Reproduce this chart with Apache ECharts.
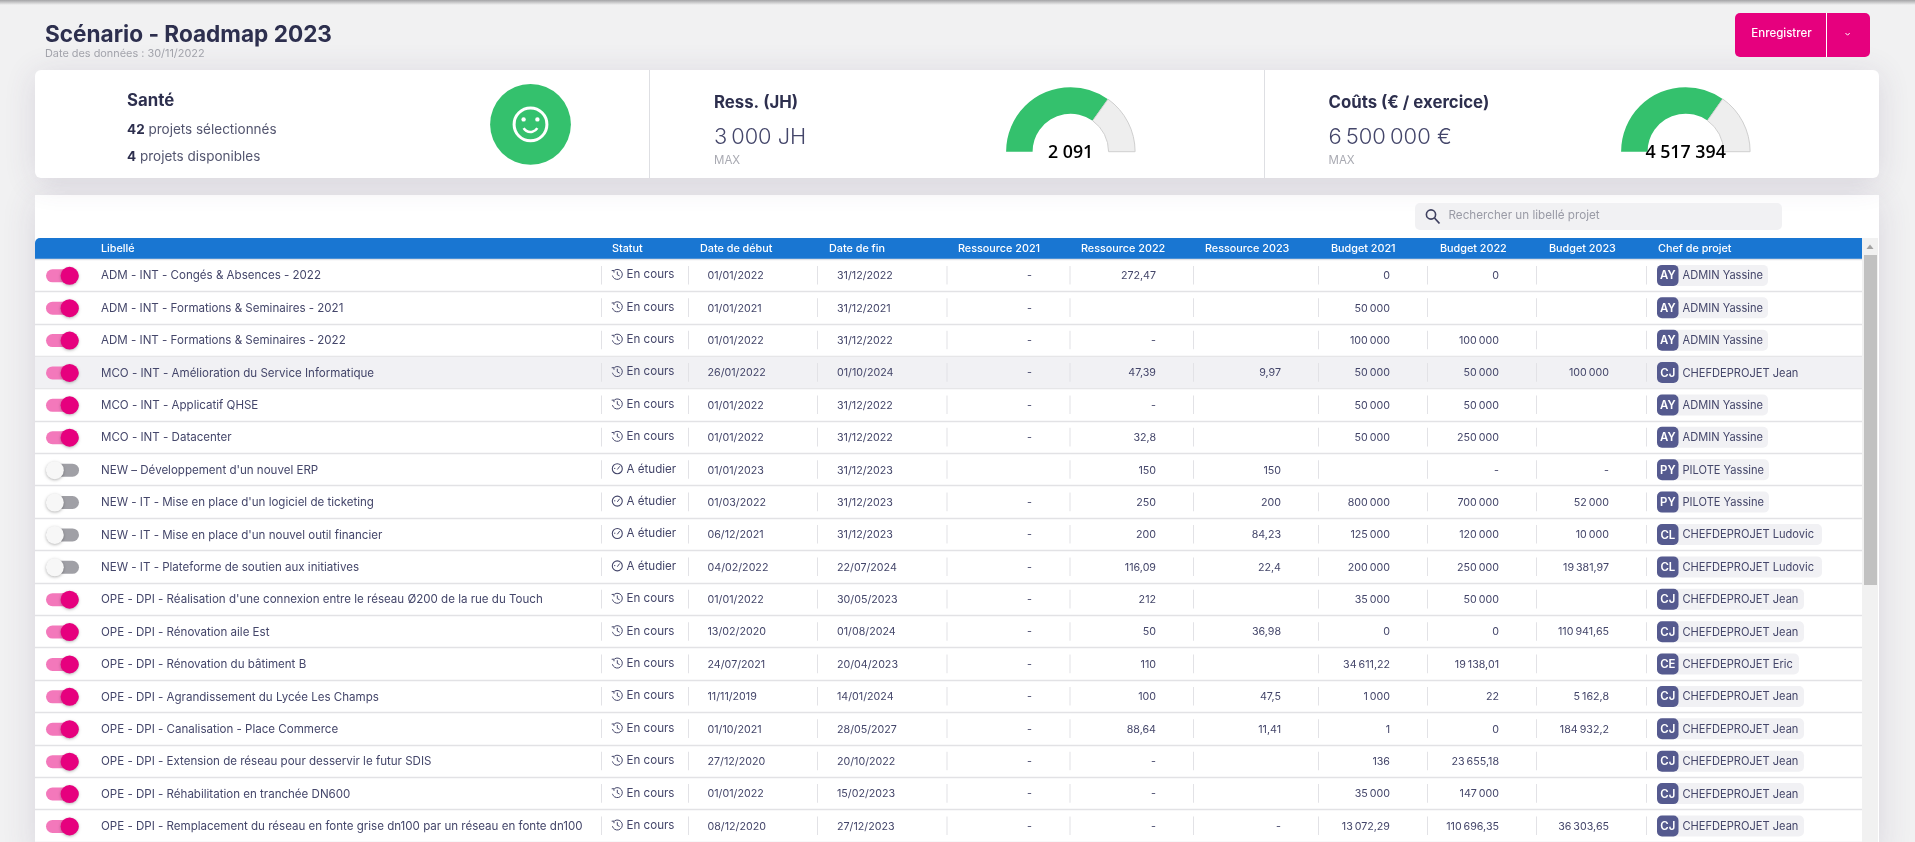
<!DOCTYPE html>
<html>
<head>
<meta charset="utf-8">
<title>Scénario - Roadmap 2023</title>
<script src="https://cdn.jsdelivr.net/npm/echarts@6/dist/echarts.min.js"></script>
<style>
  html, body { margin: 0; padding: 0; background: #f1f1f2; overflow: hidden; }
  #main { width: 1915px; height: 842px; }
</style>
</head>
<body>
<div id="main"></div>
<script>
const labels = [
  "ADM - INT - Congés & Absences - 2022",
  "ADM - INT - Formations & Seminaires - 2021",
  "ADM - INT - Formations & Seminaires - 2022",
  "MCO - INT - Amélioration du Service Informatique",
  "MCO - INT - Applicatif QHSE",
  "MCO - INT - Datacenter",
  "NEW – Développement d'un nouvel ERP",
  "NEW - IT - Mise en place d'un logiciel de ticketing",
  "NEW - IT - Mise en place d'un nouvel outil financier",
  "NEW - IT - Plateforme de soutien aux initiatives",
  "OPE - DPI - Réalisation d'une connexion entre le réseau Ø200 de la rue du Touch",
  "OPE - DPI - Rénovation aile Est",
  "OPE - DPI - Rénovation du bâtiment B",
  "OPE - DPI - Agrandissement du Lycée Les Champs",
  "OPE - DPI - Canalisation - Place Commerce",
  "OPE - DPI - Extension de réseau pour desservir le futur SDIS",
  "OPE - DPI - Réhabilitation en tranchée DN600",
  "OPE - DPI - Remplacement du réseau en fonte grise dn100 par un réseau en fonte dn100"
];
const selected = [1, 1, 1, 1, 1, 1, 0, 0, 0, 0, 1, 1, 1, 1, 1, 1, 1, 1];
const statuses = ["En cours", "En cours", "En cours", "En cours", "En cours", "En cours", "A étudier", "A étudier", "A étudier", "A étudier",
  "En cours", "En cours", "En cours", "En cours", "En cours", "En cours", "En cours", "En cours"];
const startDates = ["01/01/2022", "01/01/2021", "01/01/2022", "26/01/2022", "01/01/2022", "01/01/2022", "01/01/2023", "01/03/2022", "06/12/2021",
  "04/02/2022", "01/01/2022", "13/02/2020", "24/07/2021", "11/11/2019", "01/10/2021", "27/12/2020", "01/01/2022", "08/12/2020"];
const endDates = ["31/12/2022", "31/12/2021", "31/12/2022", "01/10/2024", "31/12/2022", "31/12/2022", "31/12/2023", "31/12/2023", "31/12/2023",
  "22/07/2024", "30/05/2023", "01/08/2024", "20/04/2023", "14/01/2024", "28/05/2027", "20/10/2022", "15/02/2023", "27/12/2023"];
const res2021 = ["-", "-", "-", "-", "-", "-", null, "-", "-", "-", "-", "-", "-", "-", "-", "-", "-", "-"];
const res2022 = [272.47, null, "-", 47.39, "-", 32.8, 150, 250, 200, 116.09, 212, 50, 110, 100, 88.64, "-", "-", "-"];
const res2023 = [null, null, null, 9.97, null, null, 150, 200, 84.23, 22.4, null, 36.98, null, 47.5, 11.41, null, null, "-"];
const bud2021 = [0, 50000, 100000, 50000, 50000, 50000, null, 800000, 125000, 200000, 35000, 0, 34611.22, 1000, 1, 136, 35000, 13072.29];
const bud2022 = [0, null, 100000, 50000, 50000, 250000, "-", 700000, 120000, 250000, 50000, 0, 19138.01, 22, 0, 23655.18, 147000, 110696.35];
const bud2023 = [null, null, null, 100000, null, null, "-", 52000, 10000, 19381.97, null, 110941.65, null, 5162.8, 184932.2, null, null, 36303.65];
const chefs = ["ADMIN Yassine", "ADMIN Yassine", "ADMIN Yassine", "CHEFDEPROJET Jean", "ADMIN Yassine", "ADMIN Yassine", "PILOTE Yassine", "PILOTE Yassine",
  "CHEFDEPROJET Ludovic", "CHEFDEPROJET Ludovic", "CHEFDEPROJET Jean", "CHEFDEPROJET Jean", "CHEFDEPROJET Eric", "CHEFDEPROJET Jean", "CHEFDEPROJET Jean",
  "CHEFDEPROJET Jean", "CHEFDEPROJET Jean", "CHEFDEPROJET Jean"];

const ressMax = 3000;
const ressUsed = 2091;
const coutMax = 6500000;
const coutUsed = 4517394;

// layout, in page pixels
const FONT = 'Inter, "Noto Sans", sans-serif';
const INK = '#44466a';
const DARK = '#2d2f4e';
const GREEN = '#34c16d';
const PINK = '#e6007e';
const headers = [
  ['Libellé', 101], ['Statut', 612], ['Date de début', 700], ['Date de fin', 829], ['Ressource 2021', 958], ['Ressource 2022', 1081],
  ['Ressource 2023', 1205], ['Budget 2021', 1331], ['Budget 2022', 1440], ['Budget 2023', 1549], ['Chef de projet', 1658]
];
const dividers = [601, 688, 817, 946.5, 1069.5, 1193, 1318, 1427, 1536, 1646];
const numCols = [[res2021, 1032], [res2022, 1156], [res2023, 1281], [bud2021, 1390], [bud2022, 1499], [bud2023, 1609]];
const chipEnds = {
  'ADMIN Yassine': 1768, 'PILOTE Yassine': 1769, 'CHEFDEPROJET Jean': 1804, 'CHEFDEPROJET Ludovic': 1822, 'CHEFDEPROJET Eric': 1799
};
const hoverRow = 3;

function fmt(v) {
  if (v === null) return '';
  if (v === '-') return '-';
  return v.toLocaleString('fr-FR', { maximumFractionDigits: 2 });
}

function txt(x, y, text, font, fill, align) {
  return { type: 'text', x: x, y: y, style: { text: text, font: font, fill: fill, align: align || 'left', verticalAlign: 'middle' } };
}

function card(x, y, w, h, r) {
  return {
    type: 'rect', shape: { x: x, y: y, width: w, height: h, r: r },
    style: { fill: '#fff', shadowBlur: 32, shadowColor: 'rgba(82,63,105,0.16)', shadowOffsetY: 4 }
  };
}

const chrome = [
  { type: 'rect', shape: { x: 0, y: 0, width: 1915, height: 5 },
    style: { fill: new echarts.graphic.LinearGradient(0, 0, 0, 1, [{ offset: 0, color: '#a4a4a6' }, { offset: 1, color: '#f1f1f2' }]) } },
  card(35, 195, 1844, 660, 0),
  card(35, 70, 1844, 108, 6),
  txt(45, 35.5, 'Scénario - Roadmap 2023', '700 22.6px ' + FONT, DARK),
  txt(45, 54, 'Date des données : 30/11/2022', '400 10.9px ' + FONT, '#a2a3ab'),
  // bouton
  { type: 'rect', shape: { x: 1735, y: 13, width: 135, height: 44, r: 5 }, style: { fill: PINK } },
  { type: 'rect', shape: { x: 1826, y: 13, width: 1, height: 44 }, style: { fill: '#fff' } },
  txt(1781.5, 34, 'Enregistrer', '500 11.5px ' + FONT, '#fff', 'center'),
  { type: 'polyline', shape: { points: [[1845.5, 33], [1847.6, 35.2], [1849.7, 33]] }, style: { fill: 'none', stroke: '#fff', lineWidth: 1 } },
  // separateurs des cartes
  { type: 'rect', shape: { x: 649, y: 70, width: 1, height: 108 }, style: { fill: '#dedfe3' } },
  { type: 'rect', shape: { x: 1264, y: 70, width: 1, height: 108 }, style: { fill: '#dedfe3' } },
  // sante
  txt(127, 100.5, 'Santé', '700 16.8px ' + FONT, DARK),
  {
    type: 'text', x: 127, y: 130,
    style: { text: '{b|42} projets sélectionnés', font: '400 13.5px ' + FONT, fill: '#53556f', verticalAlign: 'middle',
      rich: { b: { font: '700 13.5px ' + FONT, fill: DARK } } }
  },
  {
    type: 'text', x: 127, y: 157,
    style: { text: '{b|4} projets disponibles', font: '400 13.5px ' + FONT, fill: '#53556f', verticalAlign: 'middle',
      rich: { b: { font: '700 13.5px ' + FONT, fill: DARK } } }
  },
  { type: 'circle', shape: { cx: 530.5, cy: 124.4, r: 40.4 }, style: { fill: GREEN } },
  { type: 'circle', shape: { cx: 530.5, cy: 124.4, r: 16.4 }, style: { fill: 'none', stroke: '#fff', lineWidth: 3 } },
  { type: 'circle', shape: { cx: 523.6, cy: 119.4, r: 2.2 }, style: { fill: '#fff' } },
  { type: 'circle', shape: { cx: 537.4, cy: 119.4, r: 2.2 }, style: { fill: '#fff' } },
  { type: 'arc', shape: { cx: 530.5, cy: 124, r: 8, startAngle: 0.55, endAngle: 2.6 }, style: { fill: 'none', stroke: '#fff', lineWidth: 2.6 } },
  // ressources
  txt(714, 102.5, 'Ress. (JH)', '700 16.8px ' + FONT, DARK),
  txt(714, 137.5, fmt(ressMax) + ' JH', '300 21.8px ' + FONT, INK),
  txt(714, 161, 'MAX', '400 11.5px ' + FONT, '#a9aab2'),
  // couts
  txt(1328.5, 102.5, 'Coûts (€ / exercice)', '700 16.8px ' + FONT, DARK),
  txt(1328.5, 137.5, fmt(coutMax) + ' €', '300 22px ' + FONT, INK),
  txt(1328.5, 161, 'MAX', '400 11.5px ' + FONT, '#a9aab2'),
  // recherche
  { type: 'rect', shape: { x: 1415, y: 203, width: 367, height: 27, r: 5 }, style: { fill: '#f1f1f3' } },
  { type: 'circle', shape: { cx: 1431, cy: 214.5, r: 4.6 }, style: { fill: 'none', stroke: '#3f4160', lineWidth: 1.6 } },
  { type: 'line', shape: { x1: 1434.5, y1: 218, x2: 1439.5, y2: 223.5 }, style: { stroke: '#3f4160', lineWidth: 1.8 } },
  txt(1448.5, 215.5, 'Rechercher un libellé projet', '400 11.7px ' + FONT, '#9a9ba6'),
  // entete du tableau
  { type: 'rect', shape: { x: 35, y: 238, width: 1827, height: 22, r: [5, 0, 0, 0] }, style: { fill: '#1976d2' } },
  // ascenseur
  { type: 'rect', shape: { x: 1862, y: 238, width: 16, height: 604 }, style: { fill: '#f1f1f1' } },
  { type: 'polygon', shape: { points: [[1870, 244.5], [1866.5, 249], [1873.5, 249]] }, style: { fill: '#a3a3a3' } },
  { type: 'rect', shape: { x: 1864, y: 255, width: 13, height: 330 }, style: { fill: '#c1c1c1' } }
];
headers.forEach(function (h) {
  chrome.push(txt(h[1], 248.5, h[0], '500 10.8px ' + FONT, '#fff'));
});

function toggleItems(on, y) {
  return [
    { type: 'rect', shape: { x: 46, y: y - 6.5, width: 33, height: 13, r: 6.5 }, style: { fill: on ? '#f378bb' : '#a0a0a6' } },
    { type: 'circle', shape: { cx: on ? 69.6 : 54.8, cy: y, r: 9 },
      style: { fill: on ? PINK : '#f7f7f7', shadowBlur: 3, shadowOffsetY: 1, shadowColor: 'rgba(0,0,0,0.28)' } }
  ];
}

function statusIcon(status, cy) {
  const cx = 617.3;
  const line = { fill: 'none', stroke: INK, lineWidth: 1 };
  if (status === 'En cours') {
    return [
      { type: 'arc', shape: { cx: cx, cy: cy, r: 5, startAngle: -2.2, endAngle: 2.9 }, style: line },
      { type: 'polyline', shape: { points: [[cx, cy - 2.8], [cx, cy + 0.3], [cx + 2.3, cy + 1.5]] }, style: line },
      { type: 'polyline', shape: { points: [[cx - 5.6, cy - 3.8], [cx - 3.4, cy - 3.9], [cx - 3.3, cy - 1.8]] }, style: line }
    ];
  }
  return [
    { type: 'circle', shape: { cx: cx, cy: cy, r: 5 }, style: { fill: 'none', stroke: INK, lineWidth: 1.1 } },
    { type: 'line', shape: { x1: cx, y1: cy + 0.8, x2: cx + 2.4, y2: cy - 2.4 }, style: line },
    { type: 'line', shape: { x1: cx - 3.2, y1: cy - 0.3, x2: cx - 2, y2: cy - 0.3 }, style: line }
  ];
}

function renderRow(params, api) {
  const i = api.value(1);
  const y = api.coord([35, i])[1];
  const band = api.size([0, 1])[1];
  const ty = y + 0.8;
  const kids = [];
  if (i === hoverRow) {
    kids.push({ type: 'rect', shape: { x: 35, y: y - band / 2 + 0.6, width: 1827, height: band - 1 }, style: { fill: '#f1f1f4' } });
  }
  dividers.forEach(function (d) {
    kids.push({ type: 'rect', shape: { x: d, y: y - 9.3, width: 1, height: 18.6 }, style: { fill: '#e2e2e6' } });
  });
  toggleItems(selected[i], y + 0.6).forEach(function (k) { kids.push(k); });
  kids.push(txt(101, ty, labels[i], '400 11.55px ' + FONT, INK));
  statusIcon(statuses[i], y - 0.8).forEach(function (k) { kids.push(k); });
  kids.push(txt(626.5, ty - 1.2, statuses[i], '400 11.6px ' + FONT, INK));
  kids.push(txt(707.5, ty, startDates[i], '400 10.7px ' + FONT, INK));
  kids.push(txt(837, ty, endDates[i], '400 10.7px ' + FONT, INK));
  numCols.forEach(function (c) {
    const s = fmt(c[0][i]);
    if (s) kids.push(txt(c[1], ty, s, '400 10.7px ' + FONT, INK, 'right'));
  });
  // chef de projet
  const name = chefs[i];
  const initials = name.split(' ').map(function (p) { return p[0]; }).join('');
  kids.push({ type: 'rect', shape: { x: 1657, y: y - 10.3, width: chipEnds[name] - 1657, height: 21, r: 5 }, style: { fill: '#f1f1f4' } });
  kids.push({ type: 'rect', shape: { x: 1657, y: y - 10.3, width: 21.5, height: 21, r: 5 }, style: { fill: '#555a8f' } });
  kids.push(txt(1667.8, ty, initials, '600 11.4px ' + FONT, '#fff', 'center'));
  kids.push(txt(1682.5, ty, name, '400 11.1px ' + FONT, INK));
  return { type: 'group', children: kids };
}

function donut(cx, value, max) {
  return {
    type: 'pie', silent: true, z: 4, center: [cx, 151.7], radius: [38, 64.5], startAngle: 180, endAngle: 0,
    labelLine: { show: false }, label: { show: false },
    data: [
      { value: value, itemStyle: { color: GREEN },
        label: { show: true, position: 'center', offset: [0, 1], formatter: String(value).replace(/\B(?=(\d{3})+$)/g, ' '),
          fontFamily: '"Open Sans"', fontWeight: 600, fontSize: 17.8, color: '#000' } },
      { value: max - value, itemStyle: { color: '#eeeeee', borderColor: '#cfcfcf', borderWidth: 1 } }
    ]
  };
}

const chart = echarts.init(document.getElementById('main'));
chart.setOption({
  animation: false,
  backgroundColor: '#f1f1f2',
  graphic: { elements: chrome },
  grid: { left: 35, width: 1827, top: 259, height: 583.2 },
  xAxis: { type: 'value', min: 35, max: 1862, show: false },
  yAxis: {
    type: 'category', inverse: true, data: labels, z: 2,
    axisLine: { show: false }, axisTick: { show: false }, axisLabel: { show: false },
    splitLine: { show: true, interval: 0, lineStyle: { color: '#e2e2e5', width: 1.4 } }
  },
  series: [
    { type: 'custom', z: 3, silent: true, encode: { x: 0, y: 1 }, renderItem: renderRow, data: labels.map(function (l, i) { return [35, i]; }) },
    donut(1070.6, ressUsed, ressMax),
    donut(1685.6, coutUsed, coutMax)
  ]
});
</script>
</body>
</html>
